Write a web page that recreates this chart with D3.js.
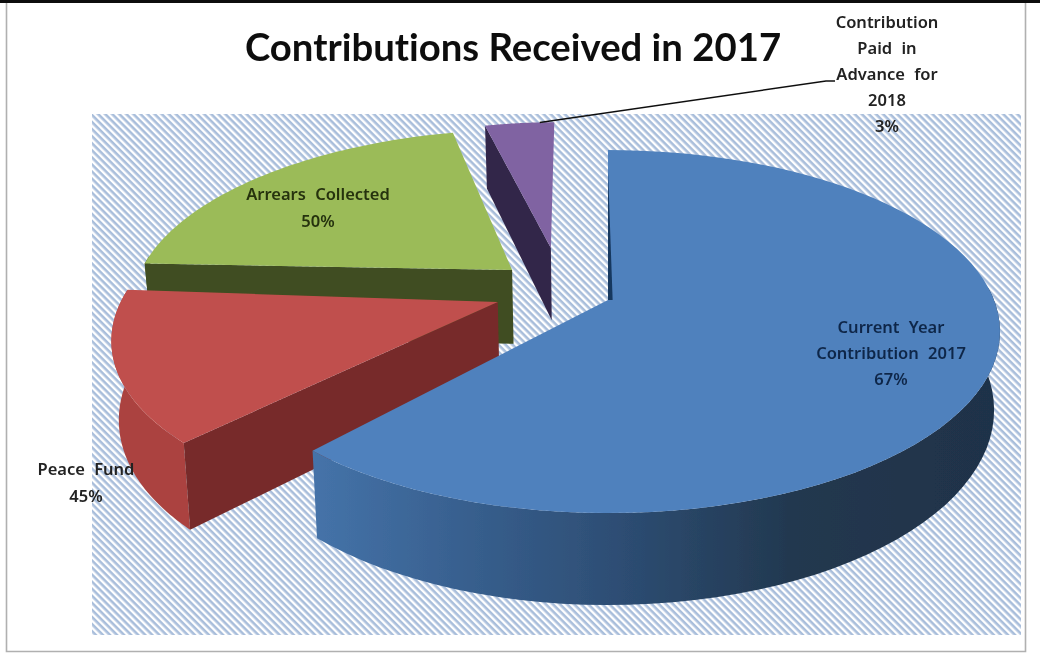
<!DOCTYPE html>
<html lang="en">
  <head>
    <meta charset="UTF-8" />
    <title>Contributions Received in 2017</title>
    <style>
      html, body { margin: 0; padding: 0; background: #fff; overflow: hidden; }
      svg { display: block; }
      text { font-variant-ligatures: none; }
    </style>
  </head>
  <body>
    <script src="https://d3js.org/d3.v7.min.js"></script>
    <script>
      // slice sizes are read from the drawn angles, the printed percentages don't add up to them
      const categories = [
        "Current Year Contribution 2017",
        "Peace Fund",
        "Arrears Collected",
        "Contribution Paid in Advance for 2018",
      ];
      const sliceShares = [61.6, 13.9, 20.7, 3.8];
      const printedPercents = [67, 45, 50, 3];

      const width = 1040;
      const height = 653;

      // pie plane -> screen, a simple perspective so the near side is bigger
      const originX = 608;
      const originY = 300;
      const scaleX = 386;
      const scaleY = 176;
      const perspective = 0.174;
      const depth = 76;

      const colors = [
        { top: "#4f81bd", wall: "url(#blueWall)", side: "#1f3a5c" },
        { top: "#c0504d", wall: "#ab433f", side: "#772c2a" },
        { top: "#9bbb59", wall: "#3f4e20", side: "#3f4e20" },
        { top: "#8064a2", wall: "#33264a", side: "#33264a" },
      ];
      // explode offset, radius and small rotation (radians) of each slice, pie plane units
      const explode = [
        { u: 0, v: 0, r: 1, turn: 0 },
        { u: -0.285, v: 0.011, r: 0.975, turn: 0.04 },
        { u: -0.256, v: -0.175, r: 0.99, turn: 0.009 },
        { u: -0.156, v: -0.311, r: 0.915, turn: -0.014 },
      ];

      const project = (u, v, lower = false) => {
        const s = 1 / (1 - perspective * v);
        const x = originX + scaleX * u * s;
        const y = originY + scaleY * v * s;
        if (!lower) return [x, y];
        return [originX + (x - originX) * 0.985, y + depth * s];
      };

      const svg = d3
        .select("body")
        .append("svg")
        .attr("width", width)
        .attr("height", height);

      const defs = svg.append("defs");
      const hatch = defs
        .append("pattern")
        .attr("id", "hatch")
        .attr("patternUnits", "userSpaceOnUse")
        .attr("width", 5)
        .attr("height", 5)
        .attr("patternTransform", "rotate(45)");
      hatch.append("rect").attr("width", 5).attr("height", 5).attr("fill", "#fff");
      hatch.append("rect").attr("width", 5).attr("height", 2.6).attr("fill", "#a9bedb");

      const blueWall = defs.append("linearGradient").attr("id", "blueWall");
      [
        [0, "#4573a9"],
        [0.25, "#365d8b"],
        [0.45, "#2d4d73"],
        [0.7, "#22384f"],
        [1, "#1f3249"],
      ].forEach(([o, c]) => {
        blueWall.append("stop").attr("offset", o).attr("stop-color", c);
      });

      defs
        .append("filter")
        .attr("id", "soft")
        .append("feGaussianBlur")
        .attr("stdDeviation", 0.45);

      const root = svg.append("g").attr("filter", "url(#soft)");

      // frame of the screenshot
      root.append("rect").attr("width", width).attr("height", height).attr("fill", "#fff");
      root.append("rect").attr("width", width).attr("height", 3).attr("fill", "#111");
      root
        .append("path")
        .attr("d", "M6.5,3V651.5H1025.5V3")
        .attr("fill", "none")
        .attr("stroke", "#b0b0b0")
        .attr("stroke-width", 1.6);

      root
        .append("rect")
        .attr("x", 92)
        .attr("y", 114)
        .attr("width", 929)
        .attr("height", 521)
        .attr("fill", "url(#hatch)");

      root
        .append("text")
        .attr("x", 513)
        .attr("y", 61)
        .attr("text-anchor", "middle")
        .attr("font-family", "Lato")
        .attr("font-weight", 700)
        .attr("font-size", 38.3)
        .attr("fill", "#111")
        .text("Contributions Received in 2017");

      const pie = d3.pie().sort(null).startAngle(0).endAngle(2 * Math.PI);
      const arcs = pie(sliceShares);
      const line = d3.line();

      const rimPoint = (i, a, lower) =>
        project(
          explode[i].u + explode[i].r * Math.sin(a + explode[i].turn),
          explode[i].v - explode[i].r * Math.cos(a + explode[i].turn),
          lower
        );
      const anglesOf = (d) =>
        d3.range(0, 81).map((k) => d.startAngle + ((d.endAngle - d.startAngle) * k) / 80);

      // back to front, blue sits in front of everything
      const order = [3, 2, 1, 0];
      order.forEach((i) => {
        const d = arcs[i];
        const angles = anglesOf(d);
        const e = explode[i];
        const g = root.append("g").attr("class", "slice");

        // outer wall, only the part of the rim that faces the viewer
        const facing = angles.filter((a) => Math.cos(a + e.turn) < 0.1);
        if (facing.length > 1) {
          g.append("path")
            .attr(
              "d",
              line(
                facing
                  .map((a) => rimPoint(i, a, false))
                  .concat(facing.slice().reverse().map((a) => rimPoint(i, a, true)))
              ) + "Z"
            )
            .attr("fill", colors[i].wall);
        }

        // straight wall on the start edge of the slice
        if (i > 0) {
          g.append("path")
            .attr(
              "d",
              line([
                project(e.u, e.v),
                rimPoint(i, d.startAngle, false),
                rimPoint(i, d.startAngle, true),
                project(e.u, e.v, true),
              ]) + "Z"
            )
            .attr("fill", colors[i].side);
        }

        // top face
        g.append("path")
          .attr(
            "d",
            line([project(e.u, e.v)].concat(angles.map((a) => rimPoint(i, a, false)))) + "Z"
          )
          .attr("fill", colors[i].top);
      });

      // thin dark edge left of the blue slice
      root
        .append("path")
        .attr(
          "d",
          line([
            project(explode[0].u, explode[0].v),
            project(explode[0].u, explode[0].v - 0.85),
            project(explode[0].u + 0.012, explode[0].v),
          ]) + "Z"
        )
        .attr("fill", "#17375e");

      // leader line for the small slice
      const leaderStart = rimPoint(3, arcs[3].endAngle - 0.05, false);
      root
        .append("path")
        .attr("d", line([leaderStart, [826, 81], [835, 81]]))
        .attr("fill", "none")
        .attr("stroke", "#111")
        .attr("stroke-width", 1.5);

      const labels = [
        { i: 0, x: 891, y: 333, step: 26, lines: ["Current Year", "Contribution 2017"], fill: "#10284a" },
        { i: 1, x: 86, y: 475, step: 27, lines: ["Peace Fund"], fill: "#222" },
        { i: 2, x: 318, y: 200, step: 27, lines: ["Arrears Collected"], fill: "#26330f" },
        { i: 3, x: 887, y: 28, step: 26, lines: ["Contribution", "Paid in", "Advance for", "2018"], fill: "#222" },
      ];

      labels.forEach((l) => {
        const t = root
          .append("text")
          .attr("text-anchor", "middle")
          .attr("font-family", "Noto Sans")
          .attr("font-weight", 600)
          .attr("font-size", 16.5)
          .attr("word-spacing", 5)
          .attr("fill", l.fill);
        l.lines.concat(printedPercents[l.i] + "%").forEach((s, k) => {
          t.append("tspan")
            .attr("x", l.x)
            .attr("y", l.y + k * l.step)
            .text(s);
        });
      });
    </script>
  </body>
</html>
